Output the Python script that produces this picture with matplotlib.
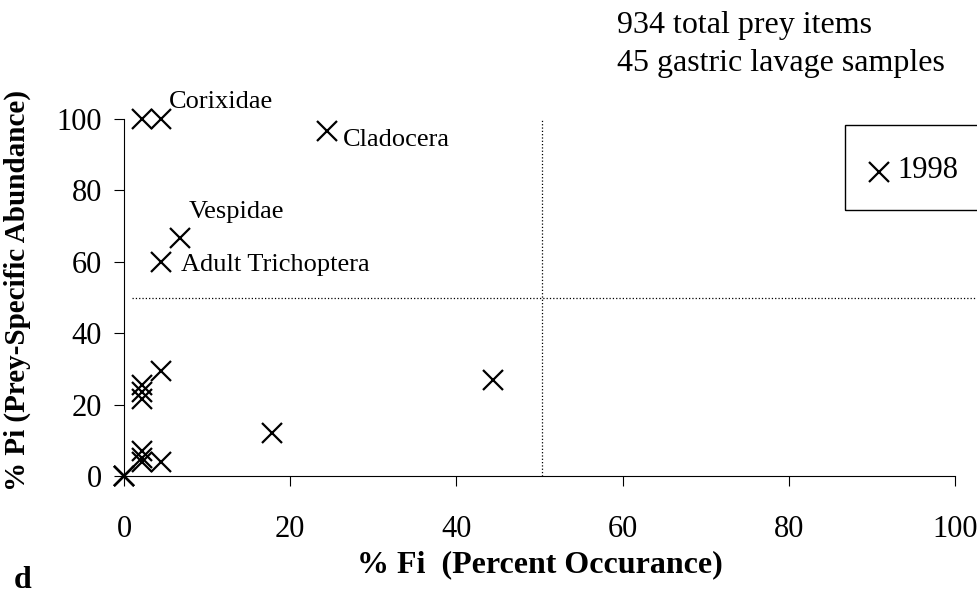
import matplotlib
matplotlib.use("Agg")
import matplotlib.pyplot as plt
from matplotlib.patches import Rectangle
from matplotlib.lines import Line2D

plt.rcParams['font.family'] = ['Liberation Serif', 'DejaVu Serif']

# % Fi (percent occurrence) and % Pi (prey-specific abundance), 1998
fi = [0, 0, 0, 2.2, 4.4, 24.4, 6.7, 4.4, 4.4, 2.2, 2.2, 2.2,
      17.8, 44.4, 2.2, 2.2, 2.2, 4.4]
pi = [0, 0, 0, 100, 100, 96.7, 66.7, 60, 29.5, 25.5, 23.5, 21.5,
      12.0, 27.0, 7.0, 5.0, 4.0, 4.0]

labels = ["Corixidae", "Cladocera", "Vespidae", "Adult Trichoptera"]
label_x = [5.4, 26.3, 7.8, 6.8]
label_y = [104.8, 94.0, 74.0, 59.0]

xticks = [0, 20, 40, 60, 80, 100]
yticks = [0, 20, 40, 60, 80, 100]

fig = plt.figure(figsize=(9.78, 5.96), dpi=100)
ax = fig.add_axes([0.1268, 0.2013, 0.8497, 0.599])

ax.plot(fi, pi, linestyle='none', marker='x', markersize=14.5,
        markeredgewidth=1.6, color='black', clip_on=False, zorder=3)

# quadrant lines
ax.plot([50.3, 50.3], [0, 100], linestyle=':', color='black', lw=0.9)
ax.plot([1.0, 103], [50, 50], linestyle=':', color='black', lw=0.9, clip_on=False)

for t, x, y in zip(labels, label_x, label_y):
    ax.text(x, y, t, fontsize=19, va='center', ha='left')

ax.set_xlim(0, 100)
ax.set_ylim(0, 100)
ax.set_xticks(xticks)
ax.set_yticks(yticks)
ax.tick_params(direction='out', length=7, width=0.8, labelsize=22)
ax.tick_params(axis='x', pad=21)
ax.tick_params(axis='y', pad=9)
for s in ['top', 'right']:
    ax.spines[s].set_visible(False)
for s in ['left', 'bottom']:
    ax.spines[s].set_linewidth(0.8)

ax.set_xlabel("% Fi  (Percent Occurance)", fontsize=23, fontweight='bold')
ax.set_ylabel("% Pi (Prey-Specific Abundance)", fontsize=21, fontweight='bold')
ax.xaxis.set_label_coords(0.5, -0.249)
ax.xaxis.label.set_va('center')
ax.yaxis.set_label_coords(-0.128, 0.52)
ax.yaxis.label.set_va('center')

fig.text(0.631, 0.958, "934 total prey items", fontsize=23, va='center', ha='left')
fig.text(0.631, 0.893, "45 gastric lavage samples", fontsize=23, va='center', ha='left')

# legend box
fig.patches.append(Rectangle((845 / 978, 1 - 210 / 596), 0.15, 85 / 596,
                             transform=fig.transFigure, fill=False,
                             edgecolor='black', lw=1.0))
fig.lines.append(Line2D([879 / 978], [1 - 172 / 596], marker='x', markersize=14.5,
                        markeredgewidth=1.6, color='black', linestyle='none',
                        transform=fig.transFigure))
fig.text(897 / 978, 1 - 170 / 596, "1998", fontsize=22, va='center', ha='left')

fig.text(0.014, 0.002, "d", fontsize=23, fontweight='bold', va='bottom', ha='left')

fig.savefig("out.png", dpi=100)
